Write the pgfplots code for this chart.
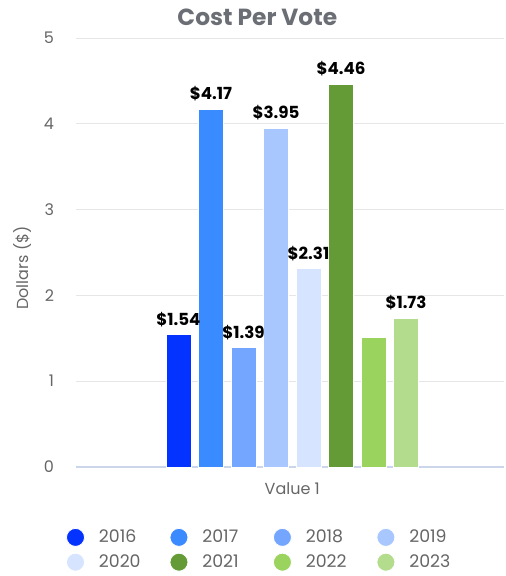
\documentclass[border=0pt]{standalone}
\usepackage{fontspec}
\setmainfont{Poppins}
\usepackage{pgfplots}
\pgfplotsset{compat=1.18}

\definecolor{c16}{HTML}{0433FF}
\definecolor{c17}{HTML}{3A8BFF}
\definecolor{c18}{HTML}{74A6FF}
\definecolor{c19}{HTML}{A9C7FF}
\definecolor{c20}{HTML}{D6E4FF}
\definecolor{c21}{HTML}{659B37}
\definecolor{c22}{HTML}{9BD35F}
\definecolor{c23}{HTML}{B3DD8D}
\definecolor{txtgrey}{HTML}{666666}
\definecolor{titlegrey}{HTML}{6B6F75}
\definecolor{gridgrey}{HTML}{E6E6E6}
\definecolor{axisline}{HTML}{CCD6EB}

\pgfplotsset{
  vbar/.style={ybar, bar shift=0pt, bar width=18.75pt, fill=#1, draw=white, line width=0.6pt},
  lbl/.style={nodes near coords={\$\pgfmathprintnumber[fixed,fixed zerofill,precision=2]{\pgfplotspointmeta}},
    every node near coord/.append style={font=\fontsize{12.5}{14}\selectfont\bfseries, text=black, yshift=2.5pt}},
}

\begin{document}
\begin{tikzpicture}
\path[use as bounding box] (0,0) rectangle (379.5pt,432pt);
\node[font=\fontsize{17.5}{19}\selectfont\bfseries, text=titlegrey] at (193pt,419pt) {Cost Per Vote};
\begin{axis}[
  at={(57pt,81.75pt)}, anchor=south west,
  scale only axis, width=321pt, height=321.75pt,
  xmin=-3.154, xmax=10.015, ymin=0, ymax=5,
  ytick={0,1,2,3,4,5},
  xtick={3.5}, xticklabels={Value 1},
  major tick length=0pt,
  axis y line*=left, axis x line*=bottom,
  y axis line style={draw=none},
  x axis line style={draw=axisline, line width=0.8pt, -},
  ymajorgrids, grid style={draw=gridgrey, line width=0.75pt},
  tick label style={font=\fontsize{12}{14}\selectfont, text=txtgrey},
  /pgf/number format/assume math mode=true,
  yticklabel style={xshift=-13pt},
  xticklabel style={yshift=-8.5pt},
  ylabel={Dollars (\$)},
  ylabel style={at={(axis description cs:-0.126,0.464)}, anchor=center, font=\fontsize{12}{14}\selectfont, text=txtgrey},
  legend columns=4,
  legend cell align=left,
  legend style={at={(axis description cs:0.437,-0.193)}, anchor=center, draw=none, fill=none,
    font=\fontsize{13}{15}\selectfont, text=txtgrey,
    nodes={inner sep=0pt, text width=38pt},
    /tikz/every odd column/.append style={column sep=10.5pt},
    /tikz/every even column/.append style={column sep=15pt},
    row sep=4.5pt},
  legend image code/.code={\fill (0pt,0pt) circle (6.75pt);},
  clip=false,
]
\addplot[vbar=c16, lbl] coordinates {(0,1.54)};
\addlegendentry{2016}
\addplot[vbar=c17, lbl] coordinates {(1,4.17)};
\addlegendentry{2017}
\addplot[vbar=c18, lbl] coordinates {(2,1.39)};
\addlegendentry{2018}
\addplot[vbar=c19, lbl] coordinates {(3,3.95)};
\addlegendentry{2019}
\addplot[vbar=c20, lbl] coordinates {(4,2.31)};
\addlegendentry{2020}
\addplot[vbar=c21, lbl] coordinates {(5,4.46)};
\addlegendentry{2021}
\addplot[vbar=c22] coordinates {(6,1.51)};
\addlegendentry{2022}
\addplot[vbar=c23, lbl] coordinates {(7,1.73)};
\addlegendentry{2023}
\end{axis}
\end{tikzpicture}
\end{document}
